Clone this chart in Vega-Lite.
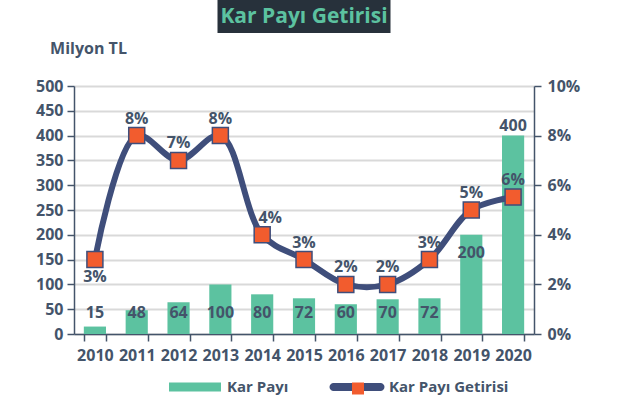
{
  "$schema": "https://vega.github.io/schema/vega-lite/v6.json",
  "autosize": {"type": "pad"},
  "padding": {"left": 35, "top": 0, "right": 5, "bottom": 0},
  "background": "#ffffff",
  "bounds": "flush",
  "center": true,
  "spacing": 53,
  "config": {
    "font": "Open Sans",
    "view": {"stroke": null},
    "axis": {
      "domainColor": "#44546A",
      "domainWidth": 1.5,
      "tickColor": "#44546A",
      "tickWidth": 1.5,
      "tickSize": 7,
      "labelFont": "Open Sans",
      "labelFontWeight": "bold",
      "labelFontSize": 16,
      "labelColor": "#44546A",
      "titleFont": "Open Sans",
      "titleFontWeight": "bold",
      "titleFontSize": 16,
      "titleColor": "#44546A"
    },
    "legend": {
      "labelFont": "Open Sans",
      "labelFontWeight": "bold",
      "labelFontSize": 15,
      "labelColor": "#44546A",
      "padding": 0
    }
  },
  "vconcat": [
    {
      "width": 173,
      "height": 33,
      "view": {"fill": "#27313B", "stroke": null},
      "data": {"values": [{"t": "Kar Payı Getirisi"}]},
      "mark": {"type": "text", "fontSize": 21, "fontWeight": "bold", "color": "#5CC2A0", "font": "Open Sans"},
      "encoding": {"text": {"field": "t"}}
    },
    {
      "width": 460,
      "height": 248,
      "data": {
        "values": [
          {"year": "2010", "kar": 15, "getiri": 0.03},
          {"year": "2011", "kar": 48, "getiri": 0.08},
          {"year": "2012", "kar": 64, "getiri": 0.07},
          {"year": "2013", "kar": 100, "getiri": 0.08},
          {"year": "2014", "kar": 80, "getiri": 0.04},
          {"year": "2015", "kar": 72, "getiri": 0.03},
          {"year": "2016", "kar": 60, "getiri": 0.02},
          {"year": "2017", "kar": 70, "getiri": 0.02},
          {"year": "2018", "kar": 72, "getiri": 0.03},
          {"year": "2019", "kar": 200, "getiri": 0.05},
          {"year": "2020", "kar": 400, "getiri": 0.0552}
        ]
      },
      "encoding": {
        "x": {
          "field": "year",
          "type": "ordinal",
          "scale": {"paddingInner": 0.47, "paddingOuter": 0.235},
          "axis": {"title": null, "labelAngle": 0, "tickBand": "extent", "labelPadding": 6}
        }
      },
      "layer": [
        {
          "encoding": {
            "y": {
              "type": "quantitative",
              "scale": {"domain": [0, 500]},
              "axis": {
                "title": "Milyon TL",
                "titleAngle": 0,
                "titleAlign": "center",
                "titleBaseline": "middle",
                "titleX": 14,
                "titleY": -38,
                "values": [0, 50, 100, 150, 200, 250, 300, 350, 400, 450, 500],
                "grid": true,
                "gridColor": "#D9D9D9",
                "gridWidth": 2,
                "labelPadding": 4
              }
            }
          },
          "layer": [
            {
              "mark": {"type": "bar"},
              "encoding": {
                "y": {"field": "kar", "type": "quantitative"},
                "fill": {
                  "datum": "Kar Payı",
                  "scale": {"range": ["#5CC2A0"]},
                  "legend": {
                    "title": null,
                    "orient": "none",
                    "legendX": 108,
                    "legendY": 374,
                    "symbolType": "M-2,-0.35H2V0.35H-2Z",
                    "symbolSize": 676,
                    "symbolStrokeWidth": 0,
                    "labelOffset": 19
                  }
                }
              }
            },
            {
              "transform": [{"filter": {"field": "year", "oneOf": ["2010", "2011", "2012", "2013", "2014", "2015", "2016", "2017", "2018"]}}],
              "mark": {"type": "text", "fontSize": 16, "fontWeight": "bold", "color": "#44546A", "baseline": "middle"},
              "encoding": {
                "y": {"datum": 43},
                "text": {"field": "kar", "type": "quantitative"}
              }
            },
            {
              "transform": [{"filter": {"field": "year", "equal": "2019"}}],
              "mark": {"type": "text", "fontSize": 16, "fontWeight": "bold", "color": "#44546A", "baseline": "top", "dy": 10},
              "encoding": {
                "y": {"field": "kar", "type": "quantitative"},
                "text": {"field": "kar", "type": "quantitative"}
              }
            },
            {
              "transform": [{"filter": {"field": "year", "equal": "2020"}}],
              "mark": {"type": "text", "fontSize": 16, "fontWeight": "bold", "color": "#44546A", "baseline": "bottom", "dy": -2},
              "encoding": {
                "y": {"field": "kar", "type": "quantitative"},
                "text": {"field": "kar", "type": "quantitative"}
              }
            }
          ]
        },
        {
          "encoding": {
            "y": {
              "field": "getiri",
              "type": "quantitative",
              "scale": {"domain": [0, 0.1]},
              "axis": {
                "title": null,
                "orient": "right",
                "format": ".0%",
                "values": [0, 0.02, 0.04, 0.06, 0.08, 0.1],
                "grid": false,
                "labelPadding": 6
              }
            }
          },
          "layer": [
            {
              "mark": {"type": "line", "strokeWidth": 6, "interpolate": "catmull-rom"},
              "encoding": {
                "stroke": {
                  "datum": "Kar Payı Getirisi",
                  "scale": {"range": ["#3F4E7B"]},
                  "legend": {
                    "title": null,
                    "orient": "none",
                    "legendX": 269,
                    "legendY": 373,
                    "symbolType": "M-1.71,-0.29H1.71A0.29,0.29 0 0 1 1.71,0.29H-1.71A0.29,0.29 0 0 1 -1.71,-0.29Z",
                    "symbolSize": 756,
                    "symbolFillColor": "#3F4E7B",
                    "symbolStrokeWidth": 0,
                    "labelOffset": 18
                  }
                }
              }
            },
            {
              "mark": {"type": "point", "shape": "square", "filled": true, "size": 256, "fill": "#F25C2E", "stroke": "#3F4E7B", "strokeWidth": 1.5, "opacity": 1},
              "encoding": {
                "shape": {
                  "datum": "marker",
                  "scale": {"range": ["square"]},
                  "legend": {
                    "title": null,
                    "orient": "none",
                    "legendX": 276.5,
                    "legendY": 381,
                    "symbolSize": 144,
                    "symbolFillColor": "#F25C2E",
                    "symbolStrokeColor": "#3F4E7B",
                    "symbolStrokeWidth": 1.5,
                    "symbolOpacity": 1,
                    "labelExpr": "''"
                  }
                }
              }
            },
            {
              "transform": [{"filter": {"field": "year", "oneOf": ["2011", "2012", "2013", "2015", "2016", "2017", "2018", "2019", "2020"]}}],
              "mark": {"type": "text", "fontSize": 16, "fontWeight": "bold", "color": "#44546A", "baseline": "bottom", "dy": -9},
              "encoding": {
                "text": {"field": "getiri", "type": "quantitative", "format": ".0%"}
              }
            },
            {
              "transform": [{"filter": {"field": "year", "equal": "2014"}}],
              "mark": {"type": "text", "fontSize": 16, "fontWeight": "bold", "color": "#44546A", "baseline": "bottom", "dy": -9, "dx": 8},
              "encoding": {
                "text": {"field": "getiri", "type": "quantitative", "format": ".0%"}
              }
            },
            {
              "transform": [{"filter": {"field": "year", "equal": "2010"}}],
              "mark": {"type": "text", "fontSize": 16, "fontWeight": "bold", "color": "#44546A", "baseline": "top", "dy": 9},
              "encoding": {
                "text": {"field": "getiri", "type": "quantitative", "format": ".0%"}
              }
            }
          ]
        }
      ],
      "resolve": {"scale": {"y": "independent"}}
    }
  ]
}
